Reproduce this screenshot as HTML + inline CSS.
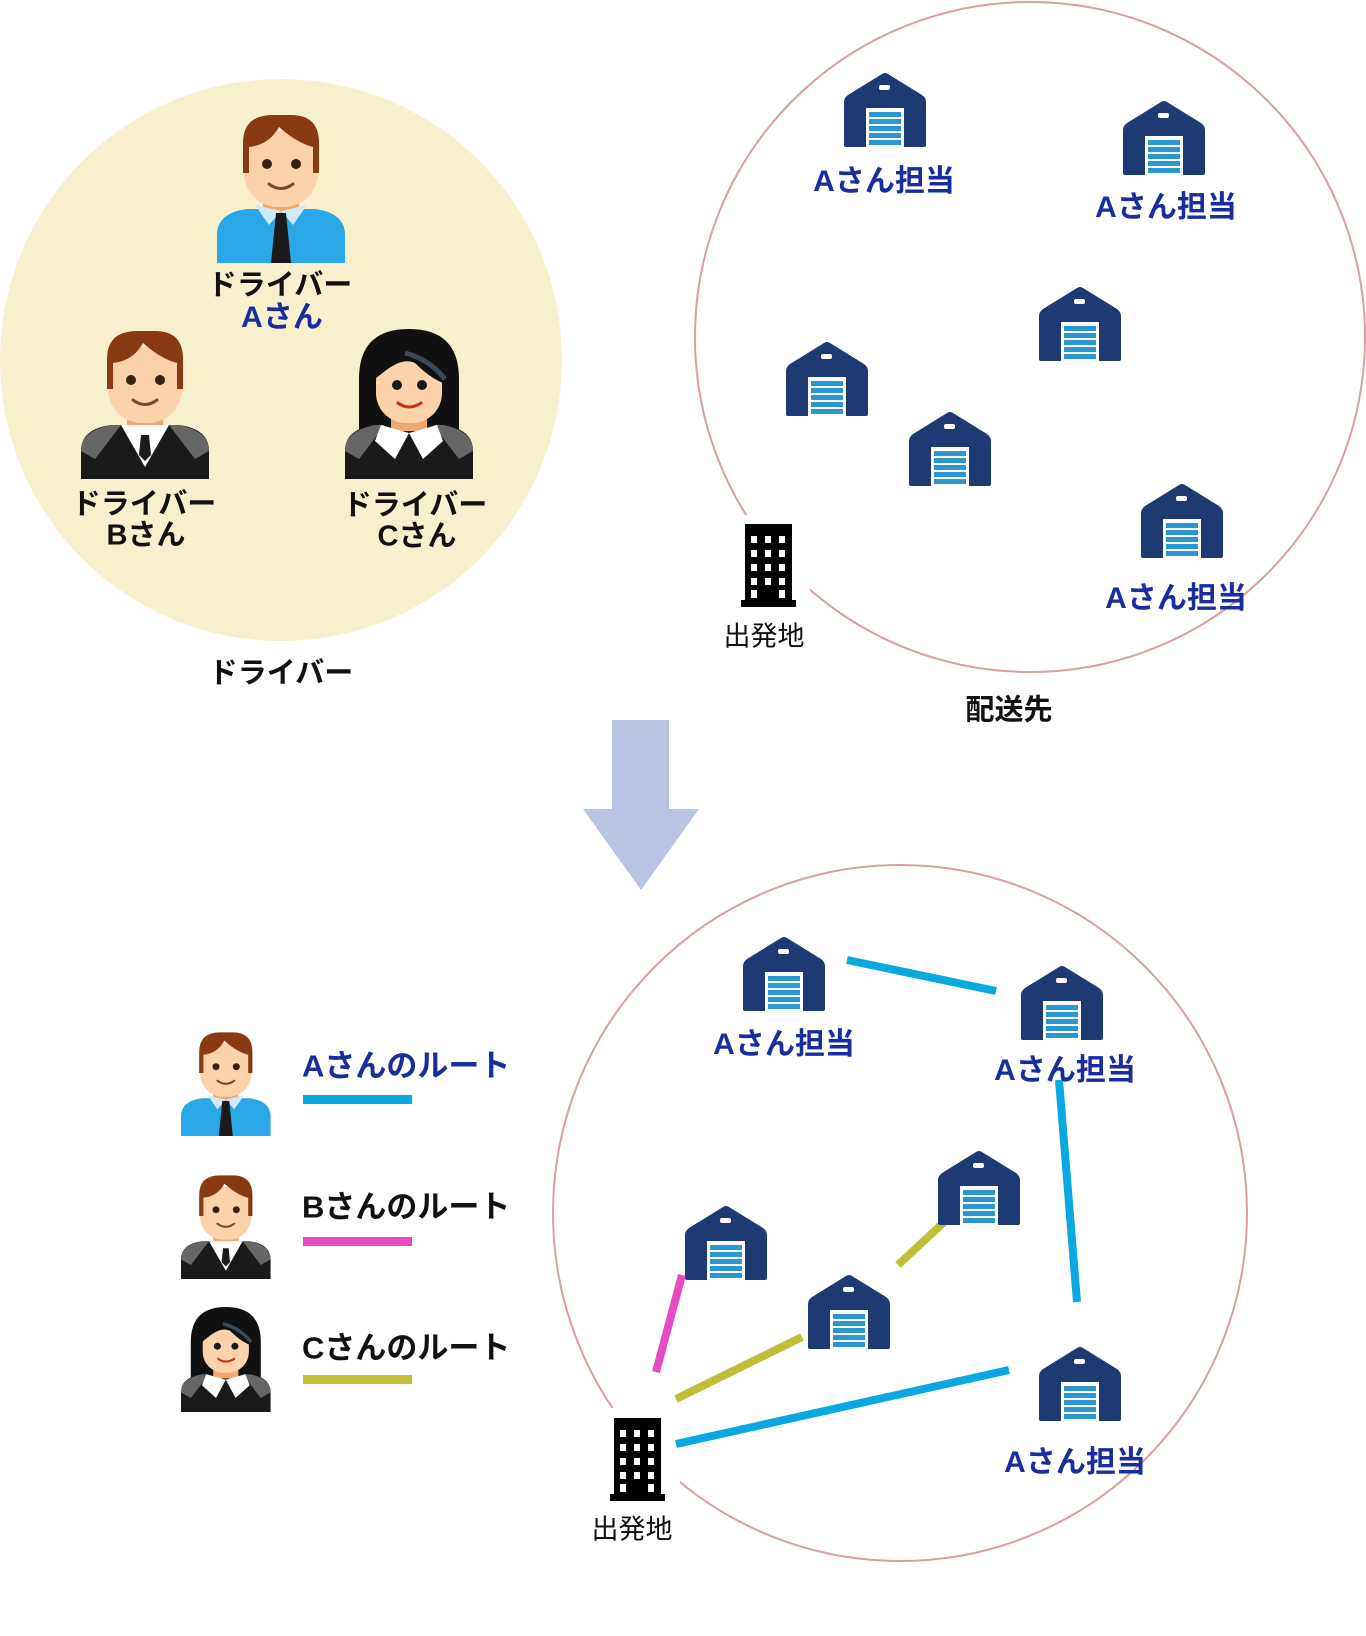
<!DOCTYPE html>
<html><head><meta charset="utf-8"><style>
html,body{margin:0;padding:0;background:#fff;}
body{width:1366px;height:1636px;position:relative;overflow:hidden;font-family:"Liberation Sans","Noto Sans CJK JP",sans-serif;}
.t{position:absolute;transform:translate(-50%,-50%);white-space:nowrap;font-weight:bold;line-height:1;}
.b{color:#1a2d9e;font-size:30px;}
.k{color:#111;font-size:29px;}
.n{color:#111;font-size:27px;font-weight:normal;}
.l{position:absolute;transform:translateY(-50%);font-size:31px;font-weight:bold;white-space:nowrap;line-height:1;}
</style></head><body>
<svg width="1366" height="1636" style="position:absolute;left:0;top:0">
<defs>
<g id="wh">
<path d="M4 22 L38 1 Q41 -1 44 1 L78 22 Q82 25 82 29 L82 72 Q82 74 80 74 L2 74 Q0 74 0 72 L0 29 Q0 25 4 22Z" fill="#1d3a72"/>
<rect x="35" y="12" width="11" height="5" rx="2" fill="#fff"/>
<rect x="22" y="35" width="38" height="39" fill="#fff"/>
<rect x="25" y="39" width="32" height="5" fill="#2a96d2"/>
<rect x="25" y="46" width="32" height="5" fill="#2a96d2"/>
<rect x="25" y="53" width="32" height="5" fill="#2a96d2"/>
<rect x="25" y="60" width="32" height="5" fill="#2a96d2"/>
<rect x="25" y="67" width="32" height="5" fill="#2a96d2"/>
</g>
<g id="bld">
<rect x="4" y="0" width="47" height="83" fill="#000"/>
<rect x="0" y="76" width="55" height="7" fill="#000"/>
<g fill="#fff">
<rect x="10" y="12" width="6" height="7"/><rect x="24" y="12" width="6" height="7"/><rect x="38" y="12" width="6" height="7"/>
<rect x="10" y="26" width="6" height="7"/><rect x="24" y="26" width="6" height="7"/><rect x="38" y="26" width="6" height="7"/>
<rect x="10" y="40" width="6" height="7"/><rect x="24" y="40" width="6" height="7"/><rect x="38" y="40" width="6" height="7"/>
<rect x="10" y="54" width="6" height="7"/><rect x="24" y="54" width="6" height="7"/><rect x="38" y="54" width="6" height="7"/>
<rect x="10" y="66" width="6" height="8"/><rect x="38" y="66" width="6" height="8"/>
</g>
</g>
<g id="face">
<rect x="27" y="18" width="74" height="76" rx="34" fill="#fbd2aa"/>
<circle cx="50" cy="51" r="5" fill="#3a2010"/><circle cx="79" cy="51" r="5" fill="#3a2010"/>
<path d="M52 71 Q64 80 76 71" stroke="#7a4a2a" stroke-width="3" fill="none" stroke-linecap="round"/>
</g>
<g id="pA">
<path d="M0 150 L0 122 Q0 100 30 96 L98 96 Q128 100 128 122 L128 150Z" fill="#2aa7e6"/>
<rect x="46" y="78" width="36" height="24" fill="#f0a870"/>
<path d="M38 92 L64 98 L52 112Z M90 92 L64 98 L76 112Z" fill="#cfeaf8"/>
<path d="M59 100 L69 100 L74 150 L54 150Z" fill="#1a1a1a"/>
<use href="#face"/>
<path d="M26 60 L26 30 Q26 2 56 2 L74 2 Q102 2 102 30 L102 60 L96 60 L96 34 Q80 30 62 14 Q52 32 32 34 L32 60Z" fill="#8a3a12"/>
</g>
<g id="pB">
<path d="M0 150 L0 122 Q0 100 30 96 L98 96 Q128 100 128 122 L128 150Z" fill="#1a1a1a"/>
<path d="M0 122 Q0 102 30 96 L40 96 L14 130Z M128 122 Q128 102 98 96 L88 96 L114 130Z" fill="#666"/>
<rect x="46" y="78" width="36" height="24" fill="#f0a870"/>
<path d="M40 96 L88 96 L64 138Z" fill="#fff"/>
<path d="M60 106 L68 106 L70 126 L64 132 L58 126Z" fill="#1a1a1a"/>
<use href="#face"/>
<path d="M26 60 L26 30 Q26 2 56 2 L74 2 Q102 2 102 30 L102 60 L96 60 L96 34 Q80 30 62 14 Q52 32 32 34 L32 60Z" fill="#8a3a12"/>
</g>
<g id="pC">
<path d="M14 110 L14 50 Q14 0 64 0 Q114 0 114 50 L114 110Z" fill="#111"/>
<path d="M0 150 L0 122 Q0 100 30 96 L98 96 Q128 100 128 122 L128 150Z" fill="#1a1a1a"/>
<path d="M0 122 Q0 102 30 96 L40 96 L14 130Z M128 122 Q128 102 98 96 L88 96 L114 130Z" fill="#666"/>
<rect x="46" y="78" width="36" height="24" fill="#f0a870"/>
<path d="M36 96 L64 104 L50 130 L30 112Z M92 96 L64 104 L78 130 L98 112Z" fill="#fff"/>
<rect x="31" y="22" width="66" height="72" rx="30" fill="#fbd2aa"/>
<circle cx="52" cy="56" r="5" fill="#1a1a1a"/><circle cx="77" cy="56" r="5" fill="#1a1a1a"/>
<path d="M53 74 Q64 82 76 74" stroke="#c8301a" stroke-width="3" fill="none" stroke-linecap="round"/>
<path d="M30 50 Q36 14 64 14 Q100 16 104 56 Q88 52 70 34 Q58 28 40 42Z" fill="#111"/>
<path d="M60 24 Q84 30 100 50" stroke="#3a4a5a" stroke-width="5" fill="none"/>
</g>
</defs>

<circle cx="281" cy="360" r="281" fill="#f8f0cc"/>
<ellipse cx="1030" cy="337" rx="335" ry="335" fill="none" stroke="#d9a0a0" stroke-width="2"/>
<rect x="730" y="515" width="80" height="100" fill="#fff"/>
<ellipse cx="900" cy="1213" rx="347" ry="348" fill="none" stroke="#d9a0a0" stroke-width="2"/>
<rect x="600" y="1408" width="80" height="100" fill="#fff"/>

<path d="M612 720 L669 720 L669 809 L699 809 L641 890 L583 809 L612 809Z" fill="#b9c3e4"/>

<use href="#pA" x="217" y="113"/>
<use href="#pB" x="81" y="329" />
<use href="#pC" x="345" y="329"/>

<use href="#wh" x="844" y="73"/>
<use href="#wh" x="1123" y="101"/>
<use href="#wh" x="1039" y="287"/>
<use href="#wh" x="786" y="342"/>
<use href="#wh" x="909" y="412"/>
<use href="#wh" x="1141" y="484"/>
<use href="#bld" x="741" y="524"/>

<g stroke-width="8" stroke-linecap="butt">
<line x1="847" y1="960" x2="996" y2="991" stroke="#0aa8e0"/>
<line x1="1059" y1="1080" x2="1077" y2="1302" stroke="#0aa8e0"/>
<line x1="676" y1="1444" x2="1009" y2="1370" stroke="#0aa8e0"/>
<line x1="682" y1="1275" x2="656" y2="1372" stroke="#e64bbf"/>
<line x1="676" y1="1399" x2="802" y2="1337" stroke="#bfbf38"/>
<line x1="898" y1="1265" x2="956" y2="1211" stroke="#bfbf38"/>
</g>
<use href="#wh" x="743" y="937"/>
<use href="#wh" x="1021" y="966"/>
<use href="#wh" x="938" y="1151"/>
<use href="#wh" x="685" y="1206"/>
<use href="#wh" x="808" y="1275"/>
<use href="#wh" x="1039" y="1347"/>
<use href="#bld" x="610" y="1418"/>

<g transform="translate(181,1031) scale(0.7)"><use href="#pA"/></g>
<g transform="translate(181,1174) scale(0.7)"><use href="#pB"/></g>
<g transform="translate(181,1307) scale(0.7)"><use href="#pC"/></g>
<rect x="303" y="1095" width="109" height="9" fill="#0aa8e0"/>
<rect x="303" y="1237" width="109" height="9" fill="#e64bbf"/>
<rect x="303" y="1375" width="109" height="9" fill="#bfbf38"/>
</svg>

<div class="t k" style="left:280px;top:286px">ドライバー</div>
<div class="t b" style="left:282px;top:318px">Aさん</div>
<div class="t k" style="left:144px;top:505px">ドライバー</div>
<div class="t k" style="left:146px;top:536px">Bさん</div>
<div class="t k" style="left:415px;top:506px">ドライバー</div>
<div class="t k" style="left:417px;top:537px">Cさん</div>
<div class="t k" style="left:281px;top:674px">ドライバー</div>
<div class="t k" style="left:1009px;top:711px">配送先</div>
<div class="t b" style="left:884px;top:182px">Aさん担当</div>
<div class="t b" style="left:1166px;top:208px">Aさん担当</div>
<div class="t b" style="left:1176px;top:599px">Aさん担当</div>
<div class="t n" style="left:764px;top:637px">出発地</div>

<div class="t b" style="left:784px;top:1045px">Aさん担当</div>
<div class="t b" style="left:1065px;top:1071px">Aさん担当</div>
<div class="t b" style="left:1075px;top:1463px">Aさん担当</div>
<div class="t n" style="left:632px;top:1530px">出発地</div>

<div class="l" style="left:302px;top:1066px;color:#1a2d9e">Aさんのルート</div>
<div class="l" style="left:302px;top:1207px;color:#111">Bさんのルート</div>
<div class="l" style="left:302px;top:1348px;color:#111">Cさんのルート</div>
</body></html>
